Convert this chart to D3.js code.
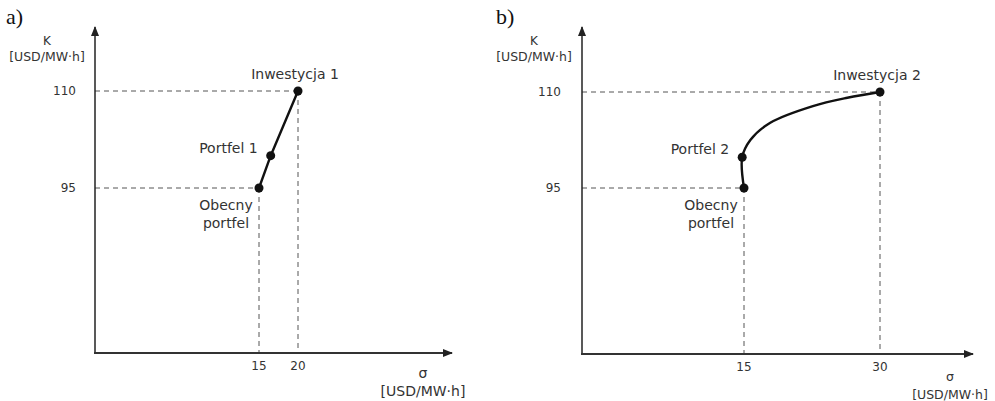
<!DOCTYPE html>
<html>
<head>
<meta charset="utf-8">
<script src="https://cdn.jsdelivr.net/npm/d3@7"></script>
<style>
  html, body { margin: 0; padding: 0; background: #fff; }
  svg { display: block; }
  text { font-family: "DejaVu Sans", Verdana, sans-serif; fill: #333; }
</style>
</head>
<body>
<svg id="chart" width="995" height="401"></svg>
<script>
/* ---- data (sigma, K) ---- */
const sigmaTicksA = [15, 20];
const kTicksA     = [95, 110];
const portfolioA  = [          // Obecny portfel -> Portfel 1 -> Inwestycja 1
  { s: 15,   k: 95 },
  { s: 16.5, k: 100 },
  { s: 20,   k: 110 },
];
const labelsA = ['Obecny portfel', 'Portfel 1', 'Inwestycja 1'];

const sigmaTicksB = [15, 30];
const kTicksB     = [95, 110];
const pointsB     = [          // marked points
  { s: 15,   k: 95 },
  { s: 14.8, k: 99.8 },
  { s: 30,   k: 110 },
];
const curveB = [               // traced frontier between them
  { s: 15,   k: 95 },
  { s: 14.8, k: 99.8 },
  { s: 15.7, k: 102.5 },
  { s: 17.9, k: 105.2 },
  { s: 22.6, k: 107.8 },
  { s: 26.4, k: 109.1 },
  { s: 30,   k: 110 },
];
const labelsB = ['Obecny portfel', 'Portfel 2', 'Inwestycja 2'];

const svg = d3.select('#chart');

svg.append('defs').append('marker')
  .attr('id', 'arrow')
  .attr('viewBox', '0 0 10 10')
  .attr('refX', 9).attr('refY', 5)
  .attr('markerWidth', 10).attr('markerHeight', 10)
  .attr('markerUnits', 'userSpaceOnUse')
  .attr('orient', 'auto')
  .append('path')
  .attr('d', 'M0,1 L10,5 L0,9 Z')
  .attr('fill', '#222');

function drawPanel(cfg) {
  const { x, y, ox, oy, xEnd, yTop } = cfg;
  const g = svg.append('g');

  // panel letter
  g.append('text')
    .attr('x', cfg.letterX).attr('y', 24)
    .style('font-family', '"Liberation Serif", "Times New Roman", serif')
    .style('font-size', '22px').style('fill', '#111')
    .text(cfg.letter);

  // dashed guides
  const guide = (x1, y1, x2, y2) => g.append('line')
    .attr('x1', x1).attr('y1', y1).attr('x2', x2).attr('y2', y2)
    .attr('stroke', '#555').attr('stroke-width', 1)
    .attr('stroke-dasharray', '5,4');
  cfg.guides.forEach(p => {
    guide(ox, y(p.k), x(p.s), y(p.k));
    guide(x(p.s), y(p.k), x(p.s), oy);
  });

  // axes with arrows
  g.append('line')
    .attr('x1', ox).attr('y1', oy).attr('x2', ox).attr('y2', yTop)
    .attr('stroke', '#222').attr('stroke-width', 1.5)
    .attr('marker-end', 'url(#arrow)');
  g.append('line')
    .attr('x1', ox - 1).attr('y1', oy).attr('x2', xEnd).attr('y2', oy)
    .attr('stroke', '#333').attr('stroke-width', 1.8)
    .attr('marker-end', 'url(#arrow)');

  // tick labels
  g.selectAll('.ky').data(cfg.kTicks).join('text')
    .attr('x', ox - cfg.kTickGap).attr('y', d => y(d) + 4)
    .attr('text-anchor', 'end').style('font-size', '12px')
    .text(d => d);
  g.selectAll('.sx').data(cfg.sTicks).join('text')
    .attr('x', d => x(d)).attr('y', oy + 17)
    .attr('text-anchor', 'middle').style('font-size', '12px')
    .text(d => d);

  // axis titles
  g.append('text').attr('x', cfg.kTitleX).attr('y', 45)
    .attr('text-anchor', 'middle').style('font-size', '12px').text('K');
  g.append('text').attr('x', cfg.kTitleX).attr('y', 61)
    .attr('text-anchor', 'middle').style('font-size', '12.5px').text('[USD/MW·h]');
  g.append('text').attr('x', cfg.sTitleX).attr('y', cfg.sTitleY)
    .attr('text-anchor', 'middle').style('font-size', cfg.sTitleSize).text('σ');
  g.append('text').attr('x', cfg.sTitleX).attr('y', cfg.sTitleY + 18)
    .attr('text-anchor', 'middle').style('font-size', cfg.sTitleSize).text('[USD/MW·h]');

  // frontier
  g.append('path')
    .datum(cfg.curve)
    .attr('d', d3.line().x(d => x(d.s)).y(d => y(d.k)).curve(cfg.curveType))
    .attr('fill', 'none').attr('stroke', '#111').attr('stroke-width', 2.4);

  g.selectAll('circle').data(cfg.points).join('circle')
    .attr('cx', d => x(d.s)).attr('cy', d => y(d.k)).attr('r', 4.5)
    .attr('fill', '#111');

  // point labels
  const [cur, port, inv] = cfg.points;
  const lab = g.append('g').style('font-size', '14px');
  lab.append('text').attr('x', x(cur.s) - 33).attr('y', y(cur.k) + 22)
    .attr('text-anchor', 'middle').text(cfg.labels[0].split(' ')[0]);
  lab.append('text').attr('x', x(cur.s) - 33).attr('y', y(cur.k) + 40)
    .attr('text-anchor', 'middle').text(cfg.labels[0].split(' ')[1]);
  lab.append('text').attr('x', x(port.s) - 13).attr('y', y(port.k) - 3)
    .attr('text-anchor', 'end').text(cfg.labels[1]);
  lab.append('text').attr('x', x(inv.s) - 3).attr('y', y(inv.k) - 12)
    .attr('text-anchor', 'middle').text(cfg.labels[2]);
}

drawPanel({
  letter: 'a)', letterX: 6,
  x: d3.scaleLinear().domain([15, 20]).range([259, 298]),
  y: d3.scaleLinear().domain([95, 110]).range([188, 91]),
  ox: 95, oy: 353, xEnd: 452, yTop: 27,
  kTicks: kTicksA, sTicks: sigmaTicksA, kTickGap: 19,
  kTitleX: 47, sTitleX: 423, sTitleY: 378, sTitleSize: '14px',
  curve: portfolioA, points: portfolioA, curveType: d3.curveLinear,
  guides: [portfolioA[0], portfolioA[2]],
  labels: labelsA,
});

drawPanel({
  letter: 'b)', letterX: 496,
  x: d3.scaleLinear().domain([15, 30]).range([744, 880]),
  y: d3.scaleLinear().domain([95, 110]).range([188, 92]),
  ox: 582, oy: 354, xEnd: 973, yTop: 27,
  kTicks: kTicksB, sTicks: sigmaTicksB, kTickGap: 21,
  kTitleX: 534, sTitleX: 950, sTitleY: 381, sTitleSize: '12.5px',
  curve: curveB, points: pointsB, curveType: d3.curveCatmullRom,
  guides: [pointsB[0], pointsB[2]],
  labels: labelsB,
});
</script>
</body>
</html>
